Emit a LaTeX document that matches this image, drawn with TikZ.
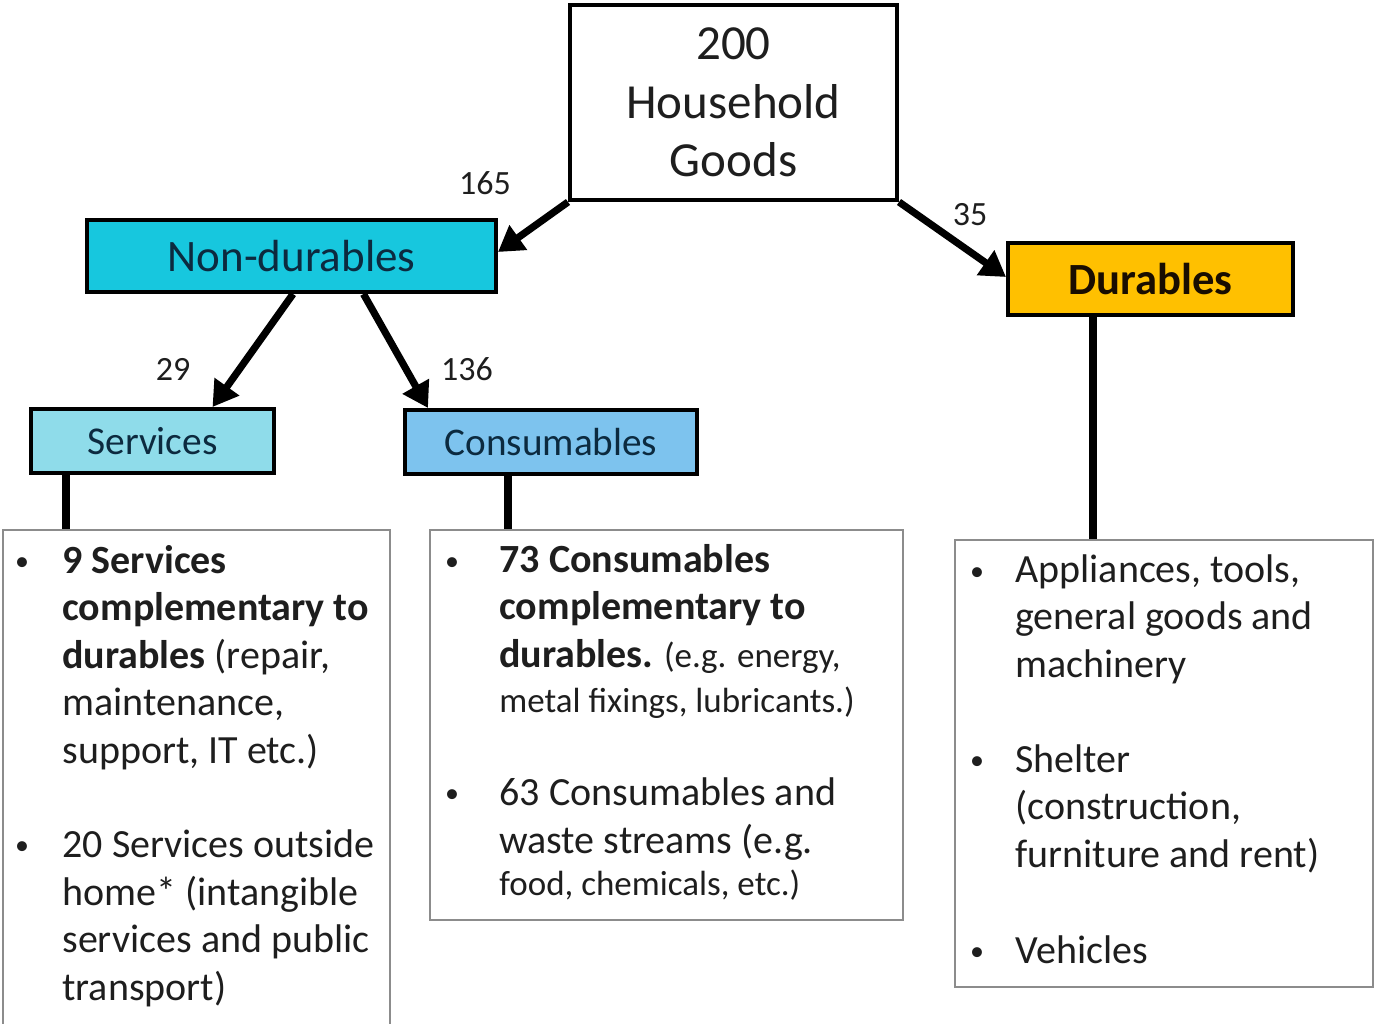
\documentclass[tikz,border=0pt]{standalone}
\usepackage{fontspec}
\setmainfont{Carlito}
\usetikzlibrary{arrows.meta,fit,calc}

\definecolor{ndcyan}{HTML}{17C7DE}
\definecolor{svcyan}{HTML}{8FDCEA}
\definecolor{csblue}{HTML}{7DC3EE}
\definecolor{dramber}{HTML}{FFC000}
\definecolor{inktext}{HTML}{1E1E1E}
\definecolor{boxtext}{HTML}{0C2A3F}
\definecolor{framegray}{HTML}{8C8C8C}

\newcommand\fsz[2]{\fontsize{#1}{#2}\selectfont}

\begin{document}
\begin{tikzpicture}[x=0.5pt,y=-0.5pt,
  catbox/.style={draw=black, line width=2pt, inner sep=0pt, align=center, text=boxtext},
  listbox/.style={draw=framegray, line width=1pt, inner sep=0pt},
  flow/.style={line width=3.6pt, -{Triangle[length=12.5pt,width=14.5pt]}},
  link/.style={line width=4pt},
  count/.style={font=\fsz{17}{20}, text=inktext, inner sep=0pt},
  % multi-line items are anchored on the baseline of their last line
  itemtext/.style={anchor=base west, inner sep=0pt, align=left, text=inktext, font=\fsz{20}{23.75}},
  dot/.style={anchor=base, inner sep=0pt, text=inktext, font=\fsz{14}{16}},
]
\useasboundingbox (0,0) rectangle (1375,1023);

% category boxes
\node[catbox, text=inktext, minimum width=163.5pt, minimum height=97.5pt,
      font=\fsz{24.5}{29.25}] (top) at (733.5,102.5) {200\\Household\\Goods};
\node[catbox, fill=ndcyan, minimum width=204.5pt, minimum height=36pt,
      font=\fsz{22.5}{27}] (nondur) at (291.5,256) {Non-durables};
\node[catbox, fill=svcyan, minimum width=121.5pt, minimum height=32pt,
      font=\fsz{19.7}{24}] (serv) at (152.5,441) {Services};
\node[catbox, fill=csblue, minimum width=146pt, minimum height=32pt,
      font=\fsz{19.6}{24}] (cons) at (551,442) {Consumables};
\node[catbox, fill=dramber, text=black!90!orange, minimum width=142.5pt, minimum height=36pt,
      font=\fsz{22.3}{27}\bfseries] (dur) at (1150.5,279) {Durables};

% counts on the arrows
\node[count] (n165) at (485,183) {165};
\node[count] (n35)  at (970,215) {35};
\node[count] (n29)  at (173,369) {29};
\node[count] (n136) at (467,369) {136};

% arrows
\draw[flow] (top.south west) -- ([yshift=2pt]nondur.east);
\draw[flow] (top.south east) -- ([yshift=1pt]dur.west);
\draw[flow] ([xshift=0.75pt]nondur.south) -- ([xshift=30pt]serv.north);
\draw[flow] ([xshift=36pt]nondur.south) -- ([xshift=-61.5pt]cons.north);

% list frames
\node[listbox, fit={(3,530) (390,1045)}] (servlist) {};
\node[listbox, fit={(430,530) (903,920)}] (conslist) {};
\node[listbox, fit={(955,540) (1373,987)}] (durlist) {};

% stems down to the lists
\coordinate (sv) at ($(serv.south)+(-86.5,0)$);
\coordinate (cv) at ($(cons.south)+(-43,0)$);
\coordinate (dv) at ($(dur.south)+(-57.5,0)$);
\draw[link] (sv) -- (sv |- servlist.north);
\draw[link] (cv) -- (cv |- conslist.north);
\draw[link] (dv) -- (dv |- durlist.north);

% services list
\node[dot] (sb1) at (22,570) {\textbullet};
\node[itemtext] (s1) at (62,763) {\textbf{9 Services}\\\textbf{complementary to}\\\textbf{durables} (repair,\\maintenance,\\support, IT etc.)};
\node[dot] (sb2) at (22,854) {\textbullet};
\node[itemtext] (s2) at (62,1000) {20 Services outside\\home* (intangible\\services and public\\transport)};

% consumables list
\node[dot] (cb1) at (452,570) {\textbullet};
\node[itemtext] (c1) at (499,712) {\textbf{73 Consumables}\\\textbf{complementary to}\\\textbf{durables.}{\fsz{17.5}{21} (e.g. energy,}\\[-1.25pt]{\fsz{17.5}{21}metal fixings, lubricants.)}};
\node[dot] (cb2) at (452,802) {\textbullet};
\node[itemtext] (c2) at (499,895) {63 Consumables and\\waste streams (e.g.\\[-2.75pt]{\fsz{17.5}{21}food, chemicals, etc.)}};

% durables list
\node[dot] (db1) at (977,580) {\textbullet};
\node[itemtext] (d1) at (1015,677) {Appliances, tools,\\general goods and\\machinery};
\node[dot] (db2) at (977,769) {\textbullet};
\node[itemtext] (d2) at (1015,867) {Shelter\\(construction,\\furniture and rent)};
\node[dot] (db3) at (977,960) {\textbullet};
\node[itemtext] (d3) at (1015,963) {Vehicles};
\end{tikzpicture}
\end{document}
